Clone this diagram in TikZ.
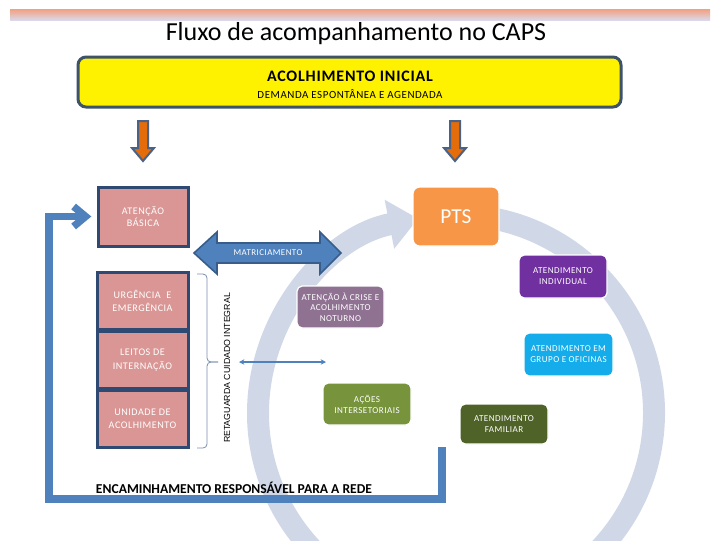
\documentclass[tikz,border=0pt]{standalone}
\usepackage{fontspec}
\setmainfont{Carlito}
\newfontfamily\lsfont[LetterSpace=5]{Carlito}
\newfontfamily\arialfont{Liberation Sans}
\usetikzlibrary{arrows.meta}
\definecolor{bandtop}{HTML}{F2A07E}
\definecolor{bandbot}{HTML}{DAD8EA}
\definecolor{ylborder}{HTML}{3E5368}
\definecolor{orangearr}{HTML}{E46C0A}
\definecolor{slatearr}{HTML}{4A6285}
\definecolor{pinkc}{HTML}{D99694}
\definecolor{navyb}{HTML}{2F4A72}
\definecolor{matfill}{HTML}{4F81BD}
\definecolor{matdraw}{HTML}{385D8A}
\definecolor{arcc}{HTML}{D0D8E8}
\definecolor{ptsc}{HTML}{F79646}
\definecolor{indc}{HTML}{7030A0}
\definecolor{grpc}{HTML}{14ACEA}
\definecolor{famc}{HTML}{4F6228}
\definecolor{acoc}{HTML}{77933C}
\definecolor{crisc}{HTML}{8F7192}
\definecolor{bracec}{HTML}{7A8FAD}
\begin{document}
\begin{tikzpicture}[x=0.75pt,y=-0.75pt,
  every node/.style={inner sep=0pt, outer sep=0pt, align=center},
  pinkbox/.style={draw=navyb, fill=pinkc, line width=2.25pt, text=white, minimum width=68.25pt, minimum height=42.75pt, font=\lsfont\fontsize{7.6}{10}\selectfont},
  cbox/.style={draw=white, line width=0.9pt, rounded corners=4pt, text=white, minimum width=66pt, font=\lsfont\fontsize{6.8}{8.2}\selectfont},
  downarr/.style={fill=orangearr, draw=slatearr, line width=1.5pt, line join=miter},
  matarrow/.style={fill=matfill, draw=matdraw, line width=1.2pt, line join=miter},
  arcband/.style={draw=arcc, line width=16.5pt, -{Triangle[length=22pt,width=36pt]}},
  encline/.style={draw=matfill, line width=5.5pt, line join=miter, -{Straight Barb[length=9pt,width=15pt]}},
  smallarr/.style={draw=matfill, line width=1.1pt, {Stealth[length=4pt,width=4pt]}-{Stealth[length=4pt,width=4pt]}},
  bracestyle/.style={draw=bracec, line width=0.6pt, rounded corners=3pt}
]
\useasboundingbox (0,0) rectangle (720,540);
\fill[white] (0,0) rectangle (720,540);

% top band and title
\shade[top color=bandtop, bottom color=bandbot] (10,9) rectangle (710,20);
\node (title) at (356,34) {\fontsize{19.5pt}{22pt}\selectfont Fluxo de acompanhamento no CAPS};

% big circular arrow
\begin{scope}[shift={(456,413)}, x=0.75pt, y=0.75pt]
  \draw[arcband] (85:198) arc[start angle=85, end angle=-259, radius=198];
\end{scope}

% acolhimento inicial
\node[draw=ylborder, fill=yellow, line width=2.25pt, rounded corners=6pt,
      minimum width=407.25pt, minimum height=37.5pt] (acolh) at (349.5,82) {};
\node (acolht) at (350,76) {\bfseries\lsfont\fontsize{12}{13}\selectfont ACOLHIMENTO INICIAL};
\node (demanda) at (350,94) {\lsfont\fontsize{8.2}{9}\selectfont DEMANDA ESPONTÂNEA E AGENDADA};

% down arrows
\draw[downarr] (138,121) -- (148,121) -- (148,148) -- (154,148) -- (143,161) -- (132,148) -- (138,148) -- cycle;
\draw[downarr] (450,121) -- (460,121) -- (460,148) -- (466,148) -- (455,161) -- (444,148) -- (450,148) -- cycle;

% left column
\node[pinkbox, minimum width=67.5pt, minimum height=44.25pt, font=\lsfont\fontsize{7.6}{8.8}\selectfont] (AB) at (143,216.5) {ATENÇÃO\\BÁSICA};
\node[pinkbox] (UE) at (142.5,301) {URGÊNCIA \ E\\EMERGÊNCIA};
\node[pinkbox] (LI) at (142.5,360) {LEITOS DE\\INTERNAÇÃO};
\node[pinkbox] (UA) at (142.5,419) {UNIDADE DE\\ACOLHIMENTO};

% matriciamento double arrow
\draw[matarrow] (194,253) -- (217,232) -- (217,243) -- (320,243) -- (320,232) -- (341,253)
  -- (320,274) -- (320,263) -- (217,263) -- (217,274) -- cycle;
\node[text=white, font=\lsfont\fontsize{6.7}{8}\selectfont] (matr) at (268,253) {MATRICIAMENTO};

% brace and vertical label
\coordinate (bracetip) at (218,362);
\draw[bracestyle] (197,274) -- (207,274) -- (207,362) -- (bracetip);
\draw[bracestyle] (bracetip) -- (207,362) -- (207,448) -- (197,448);
\node[rotate=90, font=\arialfont\fontsize{6.6}{7}\selectfont] (ret) at (227,368) {RETAGUARDA CUIDADO INTEGRAL};

% small double arrow
\coordinate (sa1) at (239,362);
\coordinate (sa2) at (326,362);
\draw[smallarr] (sa1) -- (sa2);

% coloured boxes
\node[cbox, fill=ptsc, minimum width=64.5pt, minimum height=44.25pt, rounded corners=5pt, font=\fontsize{16}{18}\selectfont] (PTS) at (456,216.5) {PTS};
\node[cbox, fill=indc, minimum height=32.25pt] (AI) at (563,276.5) {ATENDIMENTO\\INDIVIDUAL};
\node[cbox, fill=grpc, minimum width=66.75pt, minimum height=32.25pt] (AG) at (568.5,354.5) {ATENDIMENTO EM\\GRUPO E OFICINAS};
\node[cbox, fill=famc, minimum height=30pt] (AF) at (504,424) {ATENDIMENTO\\FAMILIAR};
\node[cbox, fill=crisc, minimum width=65.25pt, minimum height=31.5pt, font=\lsfont\fontsize{6.8}{7.9}\selectfont] (AC) at (340.5,307) {ATENÇÃO À CRISE E\\ACOLHIMENTO\\NOTURNO};
\node[cbox, fill=acoc, minimum height=31.5pt] (AS) at (367,404) {AÇÕES\\INTERSETORIAIS};

% encaminhamento loop
\coordinate (encstart) at (442,447);
\coordinate (enccorner) at (49,499);
\draw[encline, shorten >=5pt] (encstart) |- (enccorner) |- (AB.west);
\node[font=\bfseries\fontsize{10.2}{12}\selectfont] (enct) at (234,488) {ENCAMINHAMENTO RESPONSÁVEL PARA A REDE};
\end{tikzpicture}
\end{document}
